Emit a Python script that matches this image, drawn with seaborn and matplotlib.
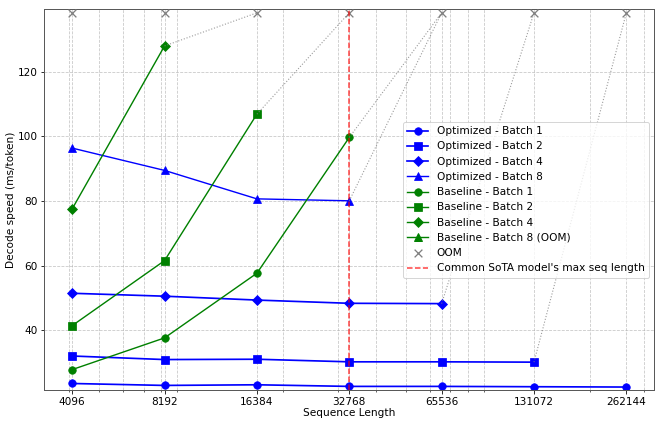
import numpy as np
import pandas as pd
import matplotlib
matplotlib.use("Agg")
import matplotlib.pyplot as plt
import seaborn as sns
from matplotlib.ticker import NullFormatter

# =====================================================
# DATA
# =====================================================

seq_lens = [4096, 8192, 16384, 32768, 65536, 131072, 262144]

opt_b1 = [23.6, 23.0, 23.2, 22.7, 22.7, 22.6, 22.5]
opt_b2 = [32.1, 31.0, 31.1, 30.3, 30.3, 30.2]
opt_b4 = [51.5, 50.6, 49.4, 48.4, 48.3]
opt_b8 = [96.4, 89.5, 80.7, 80.1]

base_b1 = [27.9, 37.7, 57.7, 99.7]
base_b2 = [41.5, 61.6, 106.9]
base_b4 = [77.6, 128.0]
base_b8 = []

sota_max_len = 32768

series = [
    ("Optimized - Batch 1", opt_b1, "blue", "o", 1.7),
    ("Optimized - Batch 2", opt_b2, "blue", "s", 1.7),
    ("Optimized - Batch 4", opt_b4, "blue", "D", 1.7),
    ("Optimized - Batch 8", opt_b8, "blue", "^", 1.4),
    ("Baseline - Batch 1", base_b1, "green", "o", 1.4),
    ("Baseline - Batch 2", base_b2, "green", "s", 1.4),
    ("Baseline - Batch 4", base_b4, "green", "D", 1.4),
    ("Baseline - Batch 8 (OOM)", base_b8, "green", "^", 1.4),
]

all_vals = [v for _, vals, _, _, _ in series for v in vals]
oom_y = max(all_vals) * 1.08

FS = 10.5

# =====================================================
# PLOT
# =====================================================

fig, ax = plt.subplots(figsize=(664 / 72, 427 / 72), dpi=72)
fig.subplots_adjust(left=0.067, right=0.985, top=0.978, bottom=0.086)

oom_points = set()

for name, vals, color, marker, lw in series:
    n = len(vals)
    if n > 0:
        df = pd.DataFrame({"seq": seq_lens[:n], "speed": vals})
        sns.lineplot(
            data=df, x="seq", y="speed", ax=ax,
            color=color, marker=marker, markersize=7.5,
            markeredgecolor=color, linewidth=lw, label=name
        )
    else:
        ax.plot([], [], color=color, marker=marker, markersize=7.5,
                linewidth=lw, label=name)

    # out of memory past the last measured length
    if n < len(seq_lens):
        if n > 0:
            ax.plot([seq_lens[n - 1], seq_lens[n]], [vals[-1], oom_y],
                    color="gray", linestyle=":", linewidth=1.1, alpha=0.8)
            oom_points.add(seq_lens[n])
        else:
            for s in seq_lens:
                oom_points.add(s)

oom_x = sorted(oom_points)
ax.scatter(oom_x, [oom_y] * len(oom_x), marker="x", color="gray",
           s=60, linewidths=1.3, label="OOM", zorder=3)

ax.axvline(sota_max_len, color="red", linestyle="--", linewidth=1.5,
           alpha=0.75, label="Common SoTA model's max seq length", zorder=4)

ax.set_xscale("log")
ax.set_xticks(seq_lens)
ax.set_xticklabels([str(s) for s in seq_lens])
ax.xaxis.set_minor_formatter(NullFormatter())
ax.set_ylim(21.5, 139.3)

ax.grid(True, which="both", linestyle="--", linewidth=0.8, alpha=0.7)

ax.set_xlabel("Sequence Length", fontsize=FS, labelpad=1)
ax.set_ylabel("Decode speed (ms/token)", fontsize=FS, labelpad=1)
ax.tick_params(labelsize=FS)

for sp in ax.spines.values():
    sp.set_edgecolor("0.35")
    sp.set_linewidth(1.0)

ax.legend(loc="center right", fontsize=FS)

plt.savefig("out.png", dpi=72)
plt.close()
